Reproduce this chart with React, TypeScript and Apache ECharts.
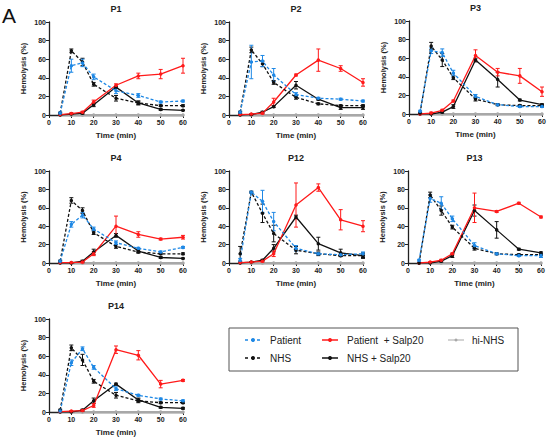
import React, { useEffect, useRef } from "react";
import * as echarts from "echarts";

const times = [5, 10, 15, 20, 30, 40, 50, 60];
const yTicks = [0, 20, 40, 60, 80, 100];
const xTicks = [0, 10, 20, 30, 40, 50, 60];
const seriesNames = ["Patient", "Patient  + Salp20", "hi-NHS", "NHS", "NHS + Salp20"];

// P1
const p1Patient = [2, 53, 56, 41, 26, 21, 14, 15];
const p1PatientErr = [1, 7, 4, 3, 3, 2, 1, 1];
const p1Nhs = [2, 69, 57, 33, 18, 13, 10, 10];
const p1NhsErr = [1, 2, 4, 2, 3, 2, 1, 1];
const p1PatSalp = [0.5, 1.5, 3, 14, 32, 42, 44, 53];
const p1PatSalpErr = [0.5, 1, 1, 2, 1.5, 3, 5, 8];
const p1NhsSalp = [0, 1, 2, 11, 30, 13, 6, 5];
const p1NhsSalpErr = [0.3, 0.5, 1, 2, 1, 2, 1, 0.5];
// P2
const p2Patient = [3, 57, 58, 43, 22, 18, 17, 15];
const p2PatientErr = [1, 18, 6, 7, 2, 1, 1, 1];
const p2Nhs = [3, 70, 55, 35, 19, 12, 10, 10];
const p2NhsErr = [1, 3, 3, 2, 2, 1, 1, 1];
const p2PatSalp = [0.5, 1, 2, 14, 43, 59, 50, 35];
const p2PatSalpErr = [0.5, 0.5, 1, 4, 1, 12, 3, 4];
const p2NhsSalp = [0, 0.5, 3, 9, 32, 17, 8, 8];
const p2NhsSalpErr = [0.3, 0.5, 1, 1, 4, 1, 2, 2];
// P3
const p3Patient = [3, 68, 66, 44, 19, 10, 8, 8];
const p3PatientErr = [1, 3, 4, 3, 2, 1, 1, 1];
const p3Nhs = [1, 73, 58, 39, 16, 10, 9, 9];
const p3NhsErr = [1, 4, 7, 2, 2, 1, 1, 1];
const p3PatSalp = [0, 1, 4, 14, 63, 45, 41, 24];
const p3PatSalpErr = [0.3, 1, 1, 1, 6, 4, 8, 5];
const p3NhsSalp = [0, 0, 2, 8, 58, 37, 15, 10];
const p3NhsSalpErr = [0, 0.3, 1, 2, 2, 8, 1, 1];
// P4
const p4Patient = [2, 42, 52, 37, 22, 16, 12, 17];
const p4PatientErr = [1, 3, 3, 2, 2, 1, 1, 1];
const p4Nhs = [2, 68, 57, 33, 18, 12, 10, 10];
const p4NhsErr = [1, 3, 3, 2, 2, 1, 1, 1];
const p4PatSalp = [0.5, 0.5, 1, 10, 40, 31, 26, 28];
const p4PatSalpErr = [0.3, 0.3, 1, 2, 11, 3, 1, 2];
const p4NhsSalp = [0, 0, 2, 12, 30, 13, 6, 5];
const p4NhsSalpErr = [0, 0.3, 1, 3, 2, 2, 1, 0.5];
// P12
const p12Patient = [3, 77, 67, 45, 16, 10, 9, 10];
const p12PatientErr = [2, 1, 12, 10, 3, 1, 1, 2];
const p12Nhs = [10, 77, 54, 32, 14, 10, 8, 8];
const p12NhsErr = [8, 1, 10, 9, 4, 2, 1, 2];
const p12PatSalp = [0.5, 1, 2, 10, 63, 82, 47, 40];
const p12PatSalpErr = [0.3, 0.5, 1, 3, 24, 4, 11, 6];
const p12NhsSalp = [0, 1, 3, 16, 50, 21, 11, 8];
const p12NhsSalpErr = [0, 0.5, 1, 4, 2, 7, 4, 3];
// P13
const p13Patient = [3, 70, 65, 48, 19, 10, 8, 8];
const p13PatientErr = [1, 4, 7, 3, 3, 1, 1, 2];
const p13Nhs = [0, 74, 57, 39, 16, 10, 9, 9];
const p13NhsErr = [0, 3, 5, 2, 2, 1, 1, 1];
const p13PatSalp = [0, 1, 3, 10, 60, 56, 65, 50];
const p13PatSalpErr = [0, 0.5, 1, 1, 16, 1, 1, 1];
const p13NhsSalp = [0, 0, 2, 8, 57, 36, 15, 11];
const p13NhsSalpErr = [0, 0, 1, 2, 6, 9, 1, 1];
// P14
const p14Patient = [1, 53, 68, 48, 25, 18, 14, 12];
const p14PatientErr = [1, 3, 2, 2, 2, 1, 1, 1];
const p14Nhs = [2, 69, 56, 33, 18, 12, 10, 10];
const p14NhsErr = [1, 3, 6, 2, 3, 2, 1, 1];
const p14PatSalp = [0.5, 1, 1.5, 7, 67, 61, 30, 34];
const p14PatSalpErr = [0.3, 0.5, 1, 2, 4, 5, 4, 1];
const p14NhsSalp = [0, 0, 2, 12, 30, 13, 5, 4];
const p14NhsSalpErr = [0, 0, 1, 3, 1, 2, 1, 1];
// hi-NHS (all panels)
const hiNhs = [0, 0, 0, 0, 0, 0, 0, 0];

const panelTitles = ["P1", "P2", "P3", "P4", "P12", "P13", "P14"];
const panelData = [
  [p1Patient, p1PatientErr, p1Nhs, p1NhsErr, p1PatSalp, p1PatSalpErr, p1NhsSalp, p1NhsSalpErr],
  [p2Patient, p2PatientErr, p2Nhs, p2NhsErr, p2PatSalp, p2PatSalpErr, p2NhsSalp, p2NhsSalpErr],
  [p3Patient, p3PatientErr, p3Nhs, p3NhsErr, p3PatSalp, p3PatSalpErr, p3NhsSalp, p3NhsSalpErr],
  [p4Patient, p4PatientErr, p4Nhs, p4NhsErr, p4PatSalp, p4PatSalpErr, p4NhsSalp, p4NhsSalpErr],
  [p12Patient, p12PatientErr, p12Nhs, p12NhsErr, p12PatSalp, p12PatSalpErr, p12NhsSalp, p12NhsSalpErr],
  [p13Patient, p13PatientErr, p13Nhs, p13NhsErr, p13PatSalp, p13PatSalpErr, p13NhsSalp, p13NhsSalpErr],
  [p14Patient, p14PatientErr, p14Nhs, p14NhsErr, p14PatSalp, p14PatSalpErr, p14NhsSalp, p14NhsSalpErr],
];

// layout (px)
const layout = [
  { left: 49, top: 22, width: 134, height: 93 },
  { left: 229, top: 22, width: 134, height: 93 },
  { left: 409, top: 21, width: 133, height: 93 },
  { left: 49, top: 171, width: 134, height: 92 },
  { left: 229, top: 171, width: 134, height: 92 },
  { left: 408, top: 171, width: 133, height: 92 },
  { left: 49, top: 319, width: 134, height: 93 },
];

const BLUE = "#1E88E5";
const RED = "#FF1A1A";
const BLACK = "#111111";
const GRAY = "#A8A8A8";
const FONT = "Liberation Sans, Arial, sans-serif";

function pairs(vals: number[]) {
  return times.map((t, i) => [t, vals[i]]);
}
function triples(vals: number[], errs: number[]) {
  return times.map((t, i) => [t, vals[i], errs[i]]);
}

function errorSeries(idx: number, vals: number[], errs: number[], color: string) {
  return {
    type: "custom",
    xAxisIndex: idx,
    yAxisIndex: idx,
    silent: true,
    z: 3,
    data: triples(vals, errs),
    encode: { x: 0, y: 1 },
    renderItem: (params: any, api: any) => {
      const x = api.value(0);
      const y = api.value(1);
      const e = api.value(2);
      if (!e) return null;
      const top = api.coord([x, y + e]);
      const bot = api.coord([x, Math.max(0, y - e)]);
      const cw = 2;
      const st = { stroke: color, lineWidth: 1 };
      return {
        type: "group",
        children: [
          { type: "line", shape: { x1: top[0], y1: top[1], x2: bot[0], y2: bot[1] }, style: st },
          { type: "line", shape: { x1: top[0] - cw, y1: top[1], x2: top[0] + cw, y2: top[1] }, style: st },
          { type: "line", shape: { x1: bot[0] - cw, y1: bot[1], x2: bot[0] + cw, y2: bot[1] }, style: st },
        ],
      };
    },
  };
}

function lineSeries(idx: number, name: string, vals: number[], color: string, dashed: boolean, width = 1.3, z = 4) {
  return {
    type: "line",
    name,
    xAxisIndex: idx,
    yAxisIndex: idx,
    data: pairs(vals),
    symbol: "circle",
    symbolSize: 3.5,
    z,
    itemStyle: { color },
    lineStyle: { color, width, type: dashed ? [3, 2] : "solid" },
  };
}

function buildOption() {
  const grid: any[] = [];
  const xAxis: any[] = [];
  const yAxis: any[] = [];
  const title: any[] = [];
  const series: any[] = [];
  const axisText = { fontSize: 7, fontWeight: "bold", color: "#222", fontFamily: FONT };
  const axisLine = { show: true, lineStyle: { color: "#222", width: 1.3 } };
  layout.forEach((g, i) => {
    grid.push({ ...g, containLabel: false });
    xAxis.push({
      gridIndex: i,
      type: "value",
      min: xTicks[0],
      max: xTicks[xTicks.length - 1],
      interval: 10,
      name: "Time (min)",
      nameLocation: "middle",
      nameGap: 16,
      nameTextStyle: { fontSize: 8, fontWeight: "bold", color: "#222", fontFamily: FONT },
      axisLine,
      axisTick: { show: true, length: 3, lineStyle: { color: "#222", width: 1 } },
      axisLabel: { ...axisText, margin: 4 },
      splitLine: { show: false },
    });
    yAxis.push({
      gridIndex: i,
      type: "value",
      min: yTicks[0],
      max: yTicks[yTicks.length - 1],
      interval: 20,
      name: "Hemolysis (%)",
      nameLocation: "middle",
      nameGap: 22,
      nameTextStyle: { fontSize: 7.5, fontWeight: "bold", color: "#222", fontFamily: FONT },
      axisLine,
      axisTick: { show: true, length: 3, lineStyle: { color: "#222", width: 1 } },
      axisLabel: { ...axisText, margin: 3 },
      splitLine: { show: false },
    });
    title.push({
      text: panelTitles[i],
      left: g.left + g.width / 2,
      top: g.top - 18,
      padding: 0,
      textAlign: "center",
      textStyle: { fontSize: 9, fontWeight: "bold", color: "#222", fontFamily: FONT },
    });
    const d = panelData[i];
    series.push(lineSeries(i, seriesNames[2], hiNhs, GRAY, false, 2, 2));
    series.push(errorSeries(i, d[6], d[7], BLACK));
    series.push(lineSeries(i, seriesNames[4], d[6], BLACK, false));
    series.push(errorSeries(i, d[4], d[5], RED));
    series.push(lineSeries(i, seriesNames[1], d[4], RED, false));
    series.push(errorSeries(i, d[2], d[3], BLACK));
    series.push(lineSeries(i, seriesNames[3], d[2], BLACK, true));
    series.push(errorSeries(i, d[0], d[1], BLUE));
    series.push(lineSeries(i, seriesNames[0], d[0], BLUE, true));
  });
  title.push({
    text: "A",
    left: 2,
    top: 5,
    padding: 0,
    textStyle: { fontSize: 21, fontWeight: "normal", color: "#111", fontFamily: FONT },
  });

  // legend drawn with graphic elements
  const legendItems = [
    { name: seriesNames[0], color: BLUE, dashed: true, x: 245, y: 340, tx: 270 },
    { name: seriesNames[1], color: RED, dashed: false, x: 322, y: 340, tx: 347 },
    { name: seriesNames[2], color: GRAY, dashed: false, x: 448, y: 340, tx: 472 },
    { name: seriesNames[3], color: BLACK, dashed: true, x: 245, y: 358, tx: 270 },
    { name: seriesNames[4], color: BLACK, dashed: false, x: 322, y: 358, tx: 347 },
  ];
  const graphic: any[] = [
    {
      type: "rect",
      shape: { x: 229, y: 328, width: 289, height: 43 },
      style: { fill: "none", stroke: "#555", lineWidth: 1 },
    },
  ];
  legendItems.forEach((it) => {
    graphic.push({
      type: "line",
      shape: { x1: it.x, y1: it.y, x2: it.x + 16, y2: it.y },
      style: { stroke: it.color, lineWidth: it.name === "hi-NHS" ? 1 : 1.5, lineDash: it.dashed ? [3, 3] : null },
    });
    graphic.push({
      type: "circle",
      shape: { cx: it.x + 8, cy: it.y, r: it.name === "hi-NHS" ? 1.5 : 2 },
      style: { fill: it.color },
    });
    graphic.push({
      type: "text",
      x: it.tx,
      y: it.y,
      style: { text: it.name, fontSize: 10, fill: "#222", fontFamily: FONT, verticalAlign: "middle", align: "left" },
    });
  });

  return {
    animation: false,
    backgroundColor: "#ffffff",
    textStyle: { fontFamily: FONT },
    title,
    grid,
    xAxis,
    yAxis,
    series,
    graphic,
  };
}

export default function App() {
  const ref = useRef<HTMLDivElement>(null);
  useEffect(() => {
    if (!ref.current) return;
    const chart = echarts.init(ref.current, null, { renderer: "svg" });
    chart.setOption(buildOption() as any);
    return () => chart.dispose();
  }, []);
  return (
    <div
      ref={ref}
      style={{ position: "absolute", left: 0, top: 0, width: 550, height: 437, background: "#fff" }}
    />
  );
}
